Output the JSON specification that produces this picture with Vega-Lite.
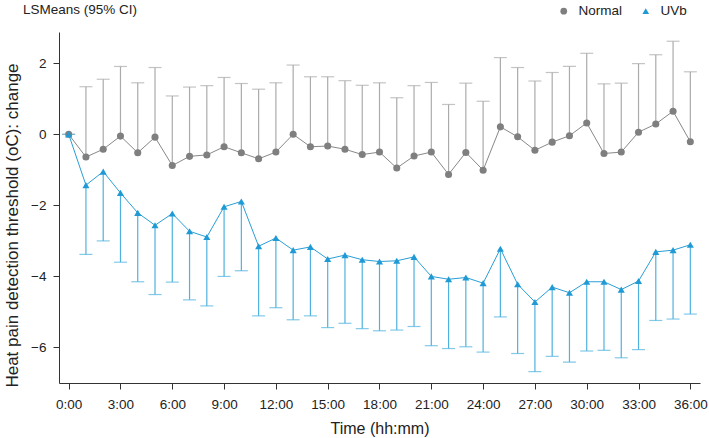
{
  "$schema": "https://vega.github.io/schema/vega-lite/v6.json",
  "width": 641,
  "height": 351,
  "autosize": {"type": "none"},
  "padding": {"left": 59, "top": 32, "right": 9, "bottom": 55},
  "background": "white",
  "title": {
    "text": "LSMeans (95% CI)",
    "anchor": "start",
    "frame": "group",
    "dx": -36,
    "dy": 26,
    "offset": 14,
    "font": "Liberation Sans",
    "fontSize": 13.5,
    "fontWeight": "normal",
    "color": "#222222"
  },
  "config": {
    "view": {"stroke": null},
    "font": "Liberation Sans",
    "axis": {
      "grid": false,
      "domainColor": "#333333",
      "tickColor": "#333333",
      "labelColor": "#222222",
      "titleColor": "#222222",
      "labelFont": "Liberation Sans",
      "titleFont": "Liberation Sans",
      "labelFontSize": 13.5,
      "titleFontWeight": "normal",
      "tickSize": 6
    },
    "legend": {
      "labelFont": "Liberation Sans",
      "labelFontSize": 13.5,
      "labelColor": "#222222"
    }
  },
  "data": {
    "values": [
      {"h": 0, "g": "Normal", "m": 0, "b": 0},
      {"h": 1, "g": "Normal", "m": -0.64, "b": 1.34},
      {"h": 2, "g": "Normal", "m": -0.42, "b": 1.55},
      {"h": 3, "g": "Normal", "m": -0.05, "b": 1.91},
      {"h": 4, "g": "Normal", "m": -0.52, "b": 1.45},
      {"h": 5, "g": "Normal", "m": -0.08, "b": 1.88},
      {"h": 6, "g": "Normal", "m": -0.88, "b": 1.08},
      {"h": 7, "g": "Normal", "m": -0.62, "b": 1.33},
      {"h": 8, "g": "Normal", "m": -0.58, "b": 1.37},
      {"h": 9, "g": "Normal", "m": -0.35, "b": 1.6},
      {"h": 10, "g": "Normal", "m": -0.52, "b": 1.43},
      {"h": 11, "g": "Normal", "m": -0.69, "b": 1.27},
      {"h": 12, "g": "Normal", "m": -0.5, "b": 1.45},
      {"h": 13, "g": "Normal", "m": 0.0, "b": 1.95},
      {"h": 14, "g": "Normal", "m": -0.35, "b": 1.62},
      {"h": 15, "g": "Normal", "m": -0.33, "b": 1.62},
      {"h": 16, "g": "Normal", "m": -0.42, "b": 1.51},
      {"h": 17, "g": "Normal", "m": -0.57, "b": 1.38},
      {"h": 18, "g": "Normal", "m": -0.5, "b": 1.45},
      {"h": 19, "g": "Normal", "m": -0.95, "b": 1.03},
      {"h": 20, "g": "Normal", "m": -0.61, "b": 1.37},
      {"h": 21, "g": "Normal", "m": -0.5, "b": 1.46},
      {"h": 22, "g": "Normal", "m": -1.13, "b": 0.84},
      {"h": 23, "g": "Normal", "m": -0.51, "b": 1.44},
      {"h": 24, "g": "Normal", "m": -1.01, "b": 0.93},
      {"h": 25, "g": "Normal", "m": 0.21, "b": 2.16},
      {"h": 26, "g": "Normal", "m": -0.07, "b": 1.88},
      {"h": 27, "g": "Normal", "m": -0.45, "b": 1.5},
      {"h": 28, "g": "Normal", "m": -0.22, "b": 1.74},
      {"h": 29, "g": "Normal", "m": -0.04, "b": 1.91},
      {"h": 30, "g": "Normal", "m": 0.32, "b": 2.28},
      {"h": 31, "g": "Normal", "m": -0.54, "b": 1.42},
      {"h": 32, "g": "Normal", "m": -0.5, "b": 1.44},
      {"h": 33, "g": "Normal", "m": 0.06, "b": 1.99},
      {"h": 34, "g": "Normal", "m": 0.29, "b": 2.24},
      {"h": 35, "g": "Normal", "m": 0.65, "b": 2.62},
      {"h": 36, "g": "Normal", "m": -0.21, "b": 1.76},
      {"h": 0, "g": "UVb", "m": 0, "b": 0},
      {"h": 1, "g": "UVb", "m": -1.43, "b": -3.38},
      {"h": 2, "g": "UVb", "m": -1.05, "b": -3.0},
      {"h": 3, "g": "UVb", "m": -1.65, "b": -3.6},
      {"h": 4, "g": "UVb", "m": -2.21, "b": -4.15},
      {"h": 5, "g": "UVb", "m": -2.56, "b": -4.51},
      {"h": 6, "g": "UVb", "m": -2.23, "b": -4.16},
      {"h": 7, "g": "UVb", "m": -2.73, "b": -4.66},
      {"h": 8, "g": "UVb", "m": -2.89, "b": -4.83},
      {"h": 9, "g": "UVb", "m": -2.04, "b": -4.0},
      {"h": 10, "g": "UVb", "m": -1.89, "b": -3.84},
      {"h": 11, "g": "UVb", "m": -3.15, "b": -5.11},
      {"h": 12, "g": "UVb", "m": -2.92, "b": -4.88},
      {"h": 13, "g": "UVb", "m": -3.26, "b": -5.22},
      {"h": 14, "g": "UVb", "m": -3.17, "b": -5.11},
      {"h": 15, "g": "UVb", "m": -3.51, "b": -5.44},
      {"h": 16, "g": "UVb", "m": -3.4, "b": -5.32},
      {"h": 17, "g": "UVb", "m": -3.53, "b": -5.47},
      {"h": 18, "g": "UVb", "m": -3.58, "b": -5.53},
      {"h": 19, "g": "UVb", "m": -3.56, "b": -5.51},
      {"h": 20, "g": "UVb", "m": -3.45, "b": -5.41},
      {"h": 21, "g": "UVb", "m": -4.0, "b": -5.95},
      {"h": 22, "g": "UVb", "m": -4.08, "b": -6.03},
      {"h": 23, "g": "UVb", "m": -4.03, "b": -5.98},
      {"h": 24, "g": "UVb", "m": -4.19, "b": -6.13},
      {"h": 25, "g": "UVb", "m": -3.22, "b": -5.14},
      {"h": 26, "g": "UVb", "m": -4.22, "b": -6.17},
      {"h": 27, "g": "UVb", "m": -4.72, "b": -6.68},
      {"h": 28, "g": "UVb", "m": -4.3, "b": -6.25},
      {"h": 29, "g": "UVb", "m": -4.46, "b": -6.41},
      {"h": 30, "g": "UVb", "m": -4.15, "b": -6.1},
      {"h": 31, "g": "UVb", "m": -4.15, "b": -6.08},
      {"h": 32, "g": "UVb", "m": -4.37, "b": -6.29},
      {"h": 33, "g": "UVb", "m": -4.13, "b": -6.06},
      {"h": 34, "g": "UVb", "m": -3.31, "b": -5.24},
      {"h": 35, "g": "UVb", "m": -3.26, "b": -5.2},
      {"h": 36, "g": "UVb", "m": -3.11, "b": -5.06}
    ]
  },
  "encoding": {
    "x": {
      "field": "h",
      "type": "quantitative",
      "scale": {"domain": [-0.56, 36.56], "nice": false, "zero": false},
      "axis": {
        "title": "Time (hh:mm)",
        "titleFontSize": 16,
        "titlePadding": 10,
        "values": [0, 3, 6, 9, 12, 15, 18, 21, 24, 27, 30, 33, 36],
        "labelExpr": "datum.value + ':00'",
        "labelPadding": 8
      }
    },
    "y": {
      "field": "m",
      "type": "quantitative",
      "scale": {"domain": [-7, 2.88], "nice": false, "zero": false},
      "axis": {
        "title": "Heat pain detection threshold (oC): change",
        "titleFontSize": 17,
        "titleX": -47,
        "titleY": 193,
        "titleAlign": "center",
        "titleBaseline": "middle",
        "values": [-6, -4, -2, 0, 2],
        "labelPadding": 7
      }
    }
  },
  "layer": [
    {
      "transform": [{"filter": "datum.g === 'Normal'"}],
      "mark": {"type": "rule", "strokeWidth": 1.2, "color": "#ababab"},
      "encoding": {"y2": {"field": "b"}}
    },
    {
      "transform": [{"filter": "datum.g === 'Normal'"}],
      "mark": {"type": "tick", "orient": "horizontal", "size": 13, "thickness": 1.2, "color": "#ababab"},
      "encoding": {"y": {"field": "b", "type": "quantitative"}}
    },
    {
      "transform": [{"filter": "datum.g === 'UVb'"}],
      "mark": {"type": "rule", "strokeWidth": 1.2, "color": "#4fb2de"},
      "encoding": {"y2": {"field": "b"}}
    },
    {
      "transform": [{"filter": "datum.g === 'UVb'"}],
      "mark": {"type": "tick", "orient": "horizontal", "size": 13, "thickness": 1.2, "color": "#4fb2de"},
      "encoding": {"y": {"field": "b", "type": "quantitative"}}
    },
    {
      "transform": [{"filter": "datum.g === 'Normal'"}],
      "mark": {"type": "line", "strokeWidth": 1, "color": "#888888"},
      "encoding": {}
    },
    {
      "transform": [{"filter": "datum.g === 'UVb'"}],
      "mark": {"type": "line", "strokeWidth": 1, "color": "#2a9ed5"},
      "encoding": {}
    },
    {
      "mark": {"type": "point", "filled": true, "opacity": 1, "size": 50},
      "encoding": {
        "color": {
          "field": "g",
          "type": "nominal",
          "title": null,
          "scale": {"domain": ["Normal", "UVb"], "range": ["#7f7f7f", "#1f9ad4"]},
          "legend": {
            "orient": "none",
            "direction": "horizontal",
            "legendX": 498,
            "legendY": -28,
            "symbolSize": 45,
            "labelOffset": 8,
            "columnPadding": 16
          }
        },
        "shape": {
          "field": "g",
          "type": "nominal",
          "title": null,
          "scale": {"domain": ["Normal", "UVb"], "range": ["circle", "triangle-up"]},
          "legend": {
            "orient": "none",
            "direction": "horizontal",
            "legendX": 498,
            "legendY": -28,
            "symbolSize": 45,
            "labelOffset": 8,
            "columnPadding": 16
          }
        }
      }
    }
  ]
}
